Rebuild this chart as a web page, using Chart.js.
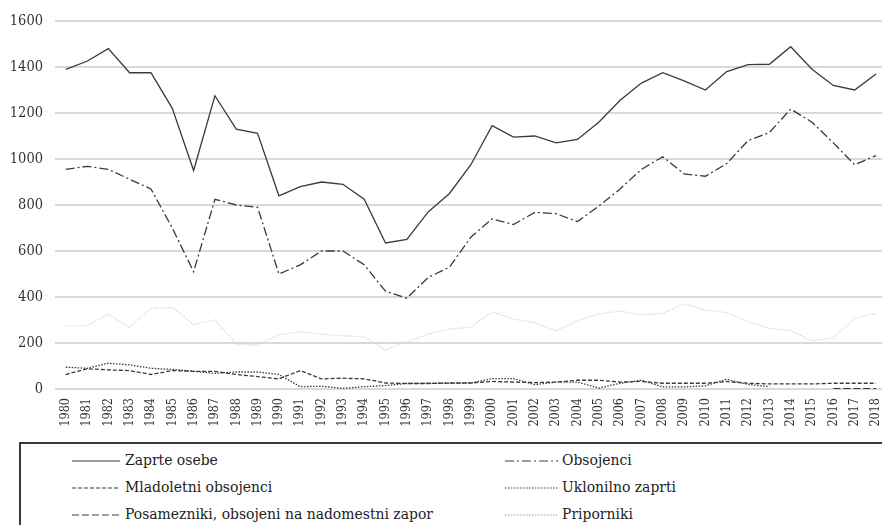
<!DOCTYPE html>
<html>
<head>
<meta charset="utf-8">
<script src="https://cdn.jsdelivr.net/npm/chart.js@4.4.1/dist/chart.umd.min.js"></script>
<style>
  html, body { margin: 0; padding: 0; background: #fff; overflow: hidden; width: 882px; height: 525px; }
  #wrap { position: absolute; left: 0; top: 0; width: 900px; height: 432px; }
  #legend { position: absolute; left: 19px; top: 442px; width: 900px; height: 120px; border: 2px solid #3a3a3a; box-sizing: border-box; }
  .item { position: absolute; font-family: "DejaVu Serif Condensed", "DejaVu Serif"; font-stretch: condensed; font-size: 15.5px; color: #222; white-space: nowrap; line-height: 18px; }
</style>
</head>
<body>
<div id="wrap"><canvas id="c" width="900" height="432"></canvas></div>
<div id="legend"></div>
<script>
const SERIF = "'DejaVu Serif Condensed', 'DejaVu Serif', serif";

const years = ["1980","1981","1982","1983","1984","1985","1986","1987","1988","1989",
  "1990","1991","1992","1993","1994","1995","1996","1997","1998","1999",
  "2000","2001","2002","2003","2004","2005","2006","2007","2008","2009",
  "2010","2011","2012","2013","2014","2015","2016","2017","2018"];

const zaprteOsebe = [1390,1425,1480,1375,1375,1220,950,1275,1130,1112,
  840,880,900,890,825,635,650,770,850,975,
  1145,1095,1100,1070,1085,1160,1255,1330,1375,1340,
  1300,1380,1410,1412,1488,1390,1320,1300,1370];

const obsojenci = [955,968,955,912,870,700,510,825,800,790,
  500,540,600,600,540,425,395,485,530,660,
  740,715,768,762,728,795,870,955,1010,935,
  925,980,1080,1115,1217,1160,1070,975,1015];

const mladoletniObsojenci = [63,88,83,80,63,80,77,77,63,54,
  44,80,44,47,44,26,24,24,26,26,
  33,30,28,30,38,38,30,33,25,25,
  25,32,25,22,22,22,25,25,25];

const uklonilnoZaprti = [95,90,112,105,90,85,77,68,74,74,
  63,10,12,3,10,15,24,25,25,26,
  45,45,19,30,30,4,25,38,9,9,
  14,42,20,10,null,null,null,null,null];

const posamezniki = [null,null,null,null,null,null,null,null,null,null,
  null,null,null,null,null,null,null,null,null,null,
  null,null,null,null,null,null,null,null,null,null,
  null,null,null,null,null,null,2,2,2];

const priporniki = [275,275,325,268,351,354,281,300,196,191,
  235,249,238,232,227,170,206,238,261,268,
  336,304,288,252,297,326,339,322,329,370,
  343,332,293,264,254,209,223,307,329];

const yTicks = [0,200,400,600,800,1000,1200,1400,1600];

const seriesDefs = [
  { label: "Zaprte osebe", data: zaprteOsebe, color: "#3a3a3a", dash: [], width: 1.3 },
  { label: "Obsojenci", data: obsojenci, color: "#3a3a3a", dash: [9,3,2,3], width: 1.3 },
  { label: "Mladoletni obsojenci", data: mladoletniObsojenci, color: "#3a3a3a", dash: [4,2], width: 1.3 },
  { label: "Uklonilno zaprti", data: uklonilnoZaprti, color: "#3a3a3a", dash: [1.5,1.5], width: 1.3 },
  { label: "Posamezniki, obsojeni na nadomestni zapor", data: posamezniki, color: "#3a3a3a", dash: [7,3], width: 1.3 },
  { label: "Priporniki", data: priporniki, color: "#d4d4d4", dash: [1.5,1.5], width: 1.2 }
];

const datasets = seriesDefs.map(s => ({
  label: s.label, data: s.data, borderColor: s.color, backgroundColor: s.color,
  borderDash: s.dash, borderWidth: s.width, pointRadius: 0, tension: 0, fill: false, spanGaps: false
}));

new Chart(document.getElementById("c"), {
  type: "line",
  data: { labels: years, datasets },
  options: {
    responsive: false,
    animation: false,
    layout: { padding: { top: 21, right: 0, left: 0, bottom: 0 } },
    plugins: { legend: { display: false }, tooltip: { enabled: false } },
    scales: {
      x: {
        offset: true,
        grid: { display: false, drawTicks: false },
        border: { display: false },
        ticks: { minRotation: 90, maxRotation: 90, autoSkip: false, padding: 9, color: "#333",
          font: { family: SERIF, size: 12.5 } },
        afterFit: s => { s.height = 43; }
      },
      y: {
        min: 0, max: 1600,
        afterBuildTicks: s => { s.ticks = yTicks.map(v => ({ value: v })); },
        grid: { color: "#d9d9d9", lineWidth: 2, drawTicks: false },
        border: { display: false },
        ticks: { padding: 12, color: "#333", font: { family: SERIF, size: 14.5 },
          callback: v => String(v) },
        afterFit: s => { s.width = 55; }
      }
    }
  }
});

// HTML legend
const legend = document.getElementById("legend");
const cols = [{ lx: 72, lw: 48, tx: 125 }, { lx: 505, lw: 53, tx: 562 }];
const rows = [461, 488, 515];
const order = [[0,0,0],[1,1,0],[2,0,1],[3,1,1],[4,0,2],[5,1,2]];
order.forEach(([si, ci, ri]) => {
  const s = seriesDefs[si], c = cols[ci];
  const cy = rows[ri];
  const line = document.createElementNS("http://www.w3.org/2000/svg", "svg");
  line.setAttribute("width", c.lw); line.setAttribute("height", 4);
  line.style.position = "absolute";
  line.style.left = (c.lx - 21) + "px";
  line.style.top = (cy - 444 - 2) + "px";
  const l = document.createElementNS("http://www.w3.org/2000/svg", "line");
  l.setAttribute("x1", 0); l.setAttribute("x2", c.lw); l.setAttribute("y1", 2); l.setAttribute("y2", 2);
  l.setAttribute("stroke", si === 5 ? "#bdbdbd" : "#3a3a3a");
  l.setAttribute("stroke-width", si === 5 ? 1.6 : 1.2);
  if (s.dash.length) l.setAttribute("stroke-dasharray", s.dash.join(" "));
  line.appendChild(l);
  legend.appendChild(line);
  const t = document.createElement("div");
  t.className = "item";
  t.textContent = s.label;
  t.style.left = (c.tx - 21) + "px";
  t.style.top = (cy - 444 - 10) + "px";
  legend.appendChild(t);
});
</script>
</body>
</html>
